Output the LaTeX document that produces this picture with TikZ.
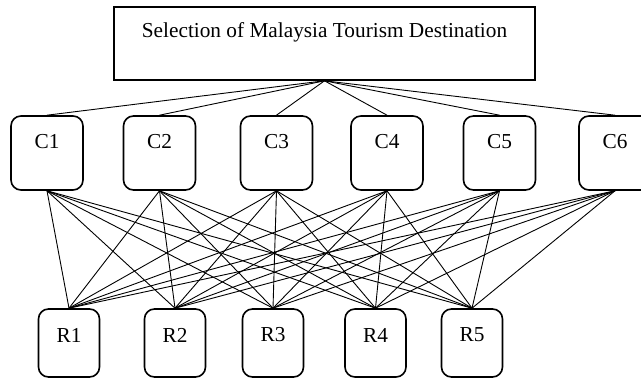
\documentclass[tikz,border=0pt]{standalone}
\usepackage{fontspec}
\setmainfont{Liberation Serif}
\begin{document}
\begin{tikzpicture}[x=1pt,y=-1pt,
  topbox/.style={draw,line width=1.6pt,minimum width=421pt,minimum height=73pt,inner sep=0pt},
  cbox/.style={draw,line width=1.6pt,rounded corners=10pt,minimum width=72pt,minimum height=74pt,inner sep=0pt},
  rbox/.style={draw,line width=1.6pt,rounded corners=10pt,minimum width=61pt,minimum height=68pt,inner sep=0pt},
  lbl/.style={font=\fontsize{21.3}{25}\selectfont,inner sep=0pt},
  conn/.style={line width=0.9pt}]
\useasboundingbox (0,0) rectangle (641,379);
\begin{scope}
\clip (0,0) rectangle (641,379);
% top
\node[topbox] (top) at (324.5,43.5) {};
\node[lbl] (toptext) at (324.5,32) {Selection of Malaysia Tourism Destination};
% criteria
\foreach \i/\x in {1/47,2/159.5,3/276.5,4/387,5/499.5,6/615}{
  \node[cbox] (c\i) at (\x,153) {};
  \node[lbl] (c\i t) at (\x,142) {C\i};
}
% alternatives
\foreach \i/\x in {1/69,2/175,3/273,4/375.5,5/472}{
  \node[rbox] (r\i) at (\x,343) {};
  \node[lbl] (r\i t) at (\x,335) {R\i};
}
\foreach \i in {1,...,6}{
  \draw[conn] (top.south) -- (c\i.north);
  \foreach \j in {1,...,5}{
    \draw[conn] (c\i.south) -- (r\j.north);
  }
}
\end{scope}
\end{tikzpicture}
\end{document}
